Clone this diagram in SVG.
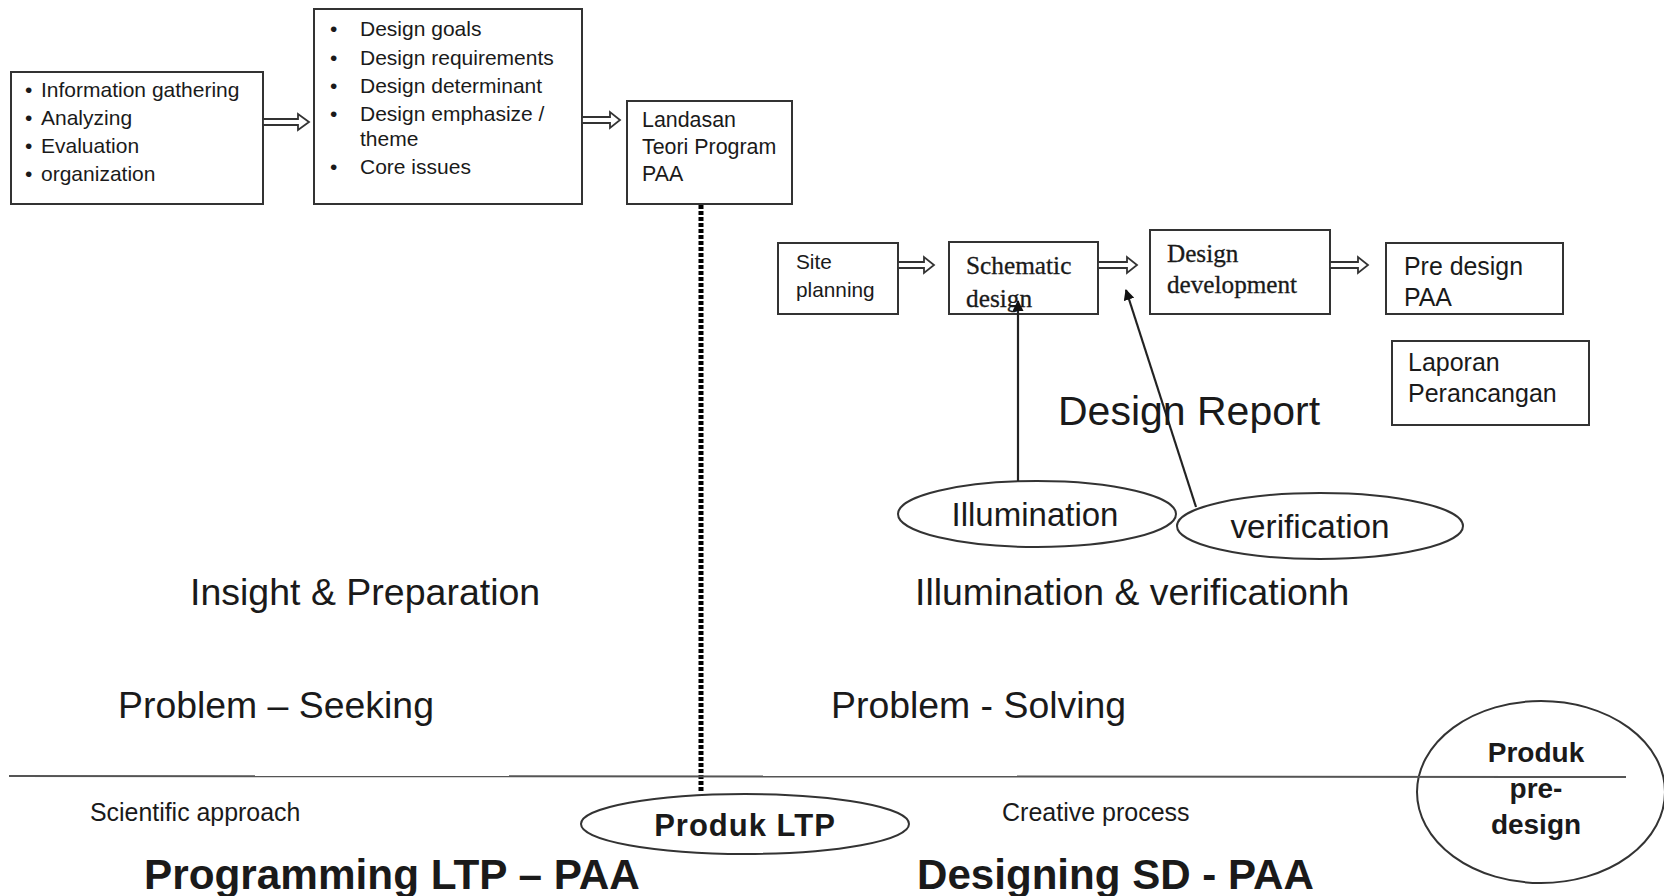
<svg xmlns="http://www.w3.org/2000/svg" width="1664" height="896" viewBox="0 0 1664 896">
<style>
.box{fill:#fff;stroke:#333;stroke-width:2}
.ell{fill:none;stroke:#333;stroke-width:2}
.s{font-family:"Liberation Sans",Arial,sans-serif;fill:#1a1a1a}
.sr{font-family:"Liberation Serif","Times New Roman",serif;fill:#1a1a1a}
.b{font-weight:bold}
.harrow{fill:#fff;stroke:#333;stroke-width:1.8;stroke-linejoin:miter}
.line{stroke:#222;stroke-width:2.2;fill:none}
</style>
<defs>
<marker id="ah" viewBox="0 0 10 10" refX="9" refY="5" markerWidth="5" markerHeight="5" orient="auto-start-reverse" markerUnits="strokeWidth">
<path d="M0,0 L10,5 L0,10 z" fill="#111"/>
</marker>
</defs>
<rect width="1664" height="896" fill="#fff"/>

<g id="node-info">
<rect class="box" x="11" y="72" width="252" height="132"/>
<g class="s" font-size="21">
<text x="25" y="97">•</text><text x="41" y="97">Information gathering</text>
<text x="25" y="125">•</text><text x="41" y="125">Analyzing</text>
<text x="25" y="153">•</text><text x="41" y="153">Evaluation</text>
<text x="25" y="181">•</text><text x="41" y="181">organization</text>
</g>
</g>

<g id="node-design">
<rect class="box" x="314" y="9" width="268" height="195"/>
<g class="s" font-size="21">
<text x="330" y="36">•</text><text x="360" y="36">Design goals</text>
<text x="330" y="65">•</text><text x="360" y="65">Design requirements</text>
<text x="330" y="93">•</text><text x="360" y="93">Design determinant</text>
<text x="330" y="121">•</text><text x="360" y="121">Design emphasize /</text>
<text x="360" y="146">theme</text>
<text x="330" y="174">•</text><text x="360" y="174">Core issues</text>
</g>
</g>

<g id="node-landasan">
<rect class="box" x="627" y="101" width="165" height="103"/>
<g class="s" font-size="21.4">
<text x="642" y="127">Landasan</text>
<text x="642" y="154">Teori Program</text>
<text x="642" y="181">PAA</text>
</g>
</g>

<g id="node-site">
<rect class="box" x="778" y="243" width="120" height="71"/>
<g class="s" font-size="20.8">
<text x="796" y="269">Site</text>
<text x="796" y="297">planning</text>
</g>
</g>

<g id="node-schematic">
<rect class="box" x="949" y="242" width="149" height="72"/>
<g class="sr" font-size="25.3" stroke="#1a1a1a" stroke-width="0.3">
<text x="966" y="274">Schematic</text>
<text x="966" y="307">design</text>
</g>
</g>

<g id="node-devel">
<rect class="box" x="1150" y="230" width="180" height="84"/>
<g class="sr" font-size="25.2" stroke="#1a1a1a" stroke-width="0.3">
<text x="1167" y="262">Design</text>
<text x="1167" y="293">development</text>
</g>
</g>

<g id="node-predesign">
<rect class="box" x="1386" y="243" width="177" height="71"/>
<g class="s" font-size="24.9">
<text x="1404" y="275">Pre design</text>
<text x="1404" y="306">PAA</text>
</g>
</g>

<g id="node-laporan">
<rect class="box" x="1392" y="341" width="197" height="84"/>
<g class="s" font-size="25">
<text x="1408" y="371">Laporan</text>
<text x="1408" y="402">Perancangan</text>
</g>
</g>

<g id="node-illumination">
<ellipse class="ell" cx="1037" cy="514" rx="139" ry="33"/>
<text class="s" x="1035" y="526" font-size="33" text-anchor="middle">Illumination</text>
</g>

<g id="node-verification">
<ellipse class="ell" cx="1320" cy="526" rx="143" ry="33"/>
<text class="s" x="1310" y="538" font-size="33.3" text-anchor="middle">verification</text>
</g>

<g id="node-produk-ltp">
<ellipse class="ell" cx="745" cy="824" rx="164" ry="30"/>
<text class="s b" x="745" y="836" font-size="31" text-anchor="middle" letter-spacing="1">Produk LTP</text>
</g>

<g id="node-produk-predesign">
<ellipse class="ell" cx="1541" cy="792" rx="124" ry="91"/>
<g class="s b" font-size="28" text-anchor="middle">
<text x="1536" y="762">Produk</text>
<text x="1536" y="798">pre-</text>
<text x="1536" y="834">design</text>
</g>
</g>

<g id="connectors">
<path class="harrow" d="M263,119 H298 V114 L309,122 L298,130 V125 H263 Z"/>
<path class="harrow" d="M582,117 H610 V112 L620,120 L610,128 V123 H582 Z"/>
<path class="harrow" d="M898,262 H924 V257 L934,265 L924,273 V268 H898 Z"/>
<path class="harrow" d="M1098,262 H1127 V257 L1137,265 L1127,273 V268 H1098 Z"/>
<path class="harrow" d="M1330,262 H1358 V257 L1368,265 L1358,273 V268 H1330 Z"/>
<line x1="701" y1="205" x2="701" y2="792" stroke="#000" stroke-width="5" stroke-dasharray="4,2"/>
<line x1="1018" y1="481" x2="1018" y2="301" class="line" marker-end="url(#ah)"/>
<line x1="1196" y1="507" x2="1126" y2="290" class="line" marker-end="url(#ah)"/>
<line x1="9" y1="776" x2="1626" y2="777" stroke="#555" stroke-width="2"/>
</g>

<g id="labels" class="s">
<text x="1058" y="425" font-size="41">Design Report</text>
<text x="190" y="605" font-size="37.5">Insight &amp; Preparation</text>
<text x="915" y="605" font-size="37.4">Illumination &amp; verificationh</text>
<text x="118" y="718" font-size="37.4">Problem – Seeking</text>
<text x="831" y="718" font-size="37.4">Problem - Solving</text>
<text x="90" y="821" font-size="24.9">Scientific approach</text>
<text x="1002" y="821" font-size="25">Creative process</text>
<text class="b" x="144" y="889" font-size="42.3">Programming LTP – PAA</text>
<text class="b" x="917" y="889" font-size="42.1">Designing SD - PAA</text>
</g>
</svg>
